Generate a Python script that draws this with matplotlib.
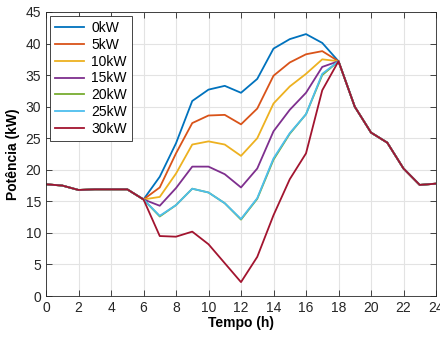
import matplotlib
matplotlib.use("Agg")
import matplotlib.pyplot as plt
import numpy as np

# hours 0..24
hours = list(range(25))

# common part before 6h and after 18h
common_start = [17.7, 17.5, 16.8, 16.9, 16.9, 16.9, 15.3]
common_end = [37.2, 30.0, 25.9, 24.3, 20.2, 17.6, 17.8]

# values from 7h to 17h for each charge power
mid_0kw = [18.9, 24.2, 30.9, 32.7, 33.3, 32.2, 34.4, 39.2, 40.7, 41.5, 40.1]
mid_5kw = [17.2, 22.6, 27.4, 28.6, 28.7, 27.2, 29.7, 34.9, 37.0, 38.3, 38.8]
mid_10kw = [15.7, 19.4, 24.0, 24.5, 24.0, 22.2, 25.0, 30.5, 33.2, 35.2, 37.5]
mid_15kw = [14.3, 17.1, 20.5, 20.5, 19.3, 17.2, 20.2, 26.1, 29.5, 32.2, 36.3]
mid_20kw = [12.6, 14.4, 17.0, 16.4, 14.7, 12.1, 15.4, 21.6, 25.7, 28.8, 35.0]
mid_25kw = [12.7, 14.4, 17.0, 16.4, 14.7, 12.2, 15.5, 21.8, 25.8, 28.8, 35.2]
mid_30kw = [9.5, 9.4, 10.2, 8.2, 5.2, 2.2, 6.2, 12.8, 18.5, 22.6, 32.6]

labels = ["0kW", "5kW", "10kW", "15kW", "20kW", "25kW", "30kW"]
colors = ["#0072BD", "#D95319", "#EDB120", "#7E2F8E", "#77AC30", "#4DBEEE", "#A2142F"]

x_ticks = list(range(0, 25, 2))
y_ticks = list(range(0, 46, 5))

plt.rcParams["font.family"] = ["Liberation Sans", "DejaVu Sans"]

fig = plt.figure(figsize=(4.4, 3.38), dpi=100)
ax = fig.add_axes([46 / 440, 42 / 338, 390 / 440, 284 / 338])

series = [mid_0kw, mid_5kw, mid_10kw, mid_15kw, mid_20kw, mid_25kw, mid_30kw]
for mid, lab, col in zip(series, labels, colors):
    y = common_start + mid + common_end
    ax.plot(hours, y, color=col, lw=1.3, label=lab)

ax.set_xlim(0, 24)
ax.set_ylim(0, 45)
ax.set_xticks(x_ticks)
ax.set_yticks(y_ticks)
ax.grid(True, color="#e3e3e3", lw=0.8)
ax.set_axisbelow(True)
ax.tick_params(direction="in", top=True, right=True, labelsize=10, length=4,
               width=0.6, colors="#262626")
for sp in ax.spines.values():
    sp.set_linewidth(0.6)
    sp.set_color("#262626")

ax.set_xlabel("Tempo (h)", fontsize=10, fontweight="bold", labelpad=1)
ax.set_ylabel("Potência (kW)", fontsize=10, fontweight="bold", labelpad=4)

leg = ax.legend(loc="upper left", fontsize=10, handlelength=2.1, labelspacing=0.2,
                fancybox=False, framealpha=1, edgecolor="#262626",
                borderaxespad=0.3, borderpad=0.35, handletextpad=0.5)
leg.get_frame().set_linewidth(0.6)

fig.savefig("out.png", dpi=100)
